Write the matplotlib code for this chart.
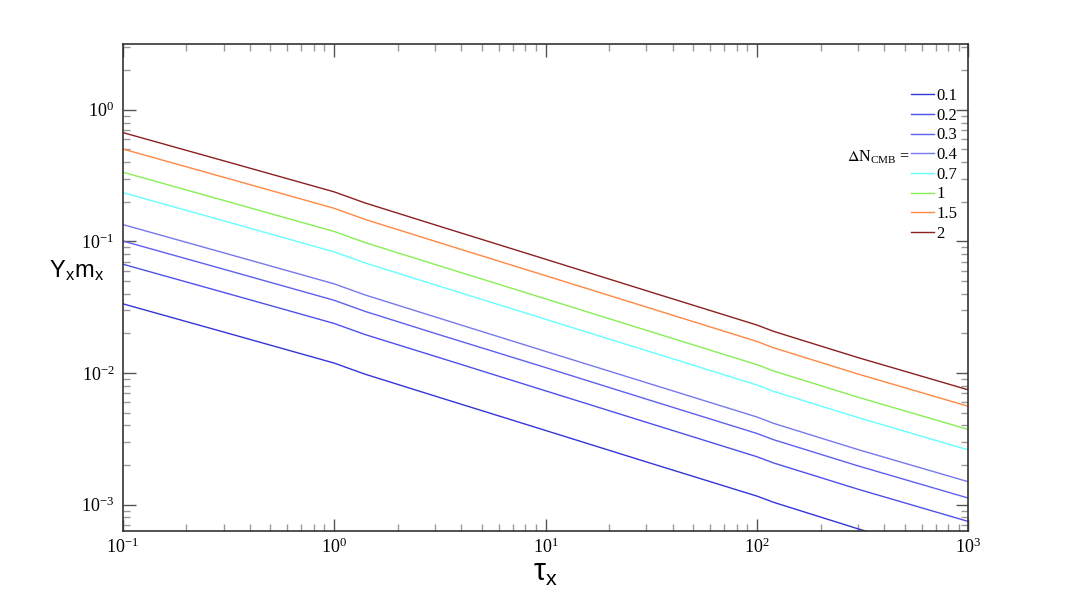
import numpy as np
import matplotlib
matplotlib.use("Agg")
import matplotlib.pyplot as plt
from matplotlib.ticker import LogLocator, NullFormatter

plt.rcParams["font.family"] = ["Liberation Serif", "DejaVu Serif"]
plt.rcParams["mathtext.fontset"] = "stix"

# tau_x sample points
tau = [0.1, 0.3, 1.0, 1.4, 3.0, 10.0, 30.0, 100.0, 120.0, 300.0, 1000.0]

# Y_x m_x for each Delta N_CMB
dn_labels = ["0.1", "0.2", "0.3", "0.4", "0.7", "1", "1.5", "2"]
y_01 = [0.0336, 0.0205, 0.0119, 0.0098, 0.00668, 0.00366, 0.00211, 0.00116, 0.00104, 0.000655, 0.000372]
y_02 = [0.0672, 0.0410, 0.0238, 0.0196, 0.0134, 0.00732, 0.00422, 0.00231, 0.00207, 0.00131, 0.000744]
y_03 = [0.1008, 0.0615, 0.0357, 0.0294, 0.0200, 0.0110, 0.00633, 0.00347, 0.00311, 0.00197, 0.00112]
y_04 = [0.1344, 0.0820, 0.0476, 0.0392, 0.0267, 0.0146, 0.00844, 0.00463, 0.00414, 0.00262, 0.00149]
y_07 = [0.235, 0.1435, 0.0833, 0.0686, 0.0468, 0.0256, 0.0148, 0.00810, 0.00725, 0.00459, 0.00260]
y_1 = [0.336, 0.205, 0.119, 0.098, 0.0668, 0.0366, 0.0211, 0.01157, 0.01035, 0.00655, 0.00372]
y_15 = [0.504, 0.3075, 0.1785, 0.147, 0.1002, 0.0549, 0.0317, 0.01736, 0.01553, 0.00983, 0.00558]
y_2 = [0.672, 0.410, 0.238, 0.196, 0.1336, 0.0732, 0.0422, 0.02314, 0.0207, 0.0131, 0.00744]
series = [y_01, y_02, y_03, y_04, y_07, y_1, y_15, y_2]

colors = ["#3535d8", "#5050ee", "#5f5ff0", "#7878ee", "#66ffff", "#88ee55", "#ff8844", "#8b2020"]

fig = plt.figure(figsize=(10.9, 5.99), dpi=100)
ax = fig.add_axes([0.1125, 0.1135, 0.776, 0.813])

for lab, ys, c in zip(dn_labels, series, colors):
    ax.plot(tau, ys, color=c, lw=1.0, label=lab)

ax.set_xscale("log")
ax.set_yscale("log")
ax.set_xlim(0.1, 1000)
ax.set_ylim(6.3e-4, 3.16)

ax.xaxis.set_minor_locator(LogLocator(base=10, subs=np.arange(2, 10), numticks=20))
ax.yaxis.set_minor_locator(LogLocator(base=10, subs=np.arange(2, 10), numticks=20))
ax.xaxis.set_minor_formatter(NullFormatter())
ax.yaxis.set_minor_formatter(NullFormatter())
ax.tick_params(which="both", direction="in", top=True, right=True, labelsize=13)
ax.tick_params(which="major", length=9, width=1.0, color="#555555")
ax.tick_params(which="minor", length=5, width=1.0, color="#999999")
ax.tick_params(axis="x", which="major", pad=5)
ax.tick_params(axis="y", which="major", pad=6)
for s in ax.spines.values():
    s.set_color("#333333")
    s.set_linewidth(1.2)

ax.set_xlabel(r"$\mathregular{\tau_x}$", fontsize=22, family="Liberation Sans")
ax.xaxis.set_label_coords(0.5, -0.055)
ax.set_ylabel(r"Y$_\mathregular{x}$m$_\mathregular{x}$", fontsize=17, family="Liberation Sans",
              rotation=0, va="center", ha="center")
ax.yaxis.set_label_coords(-0.054, 0.535)

leg = ax.legend(loc="upper left", bbox_to_anchor=(911 / 1090, 1 - 88 / 599),
                bbox_transform=fig.transFigure, frameon=False, fontsize=12,
                handlelength=1.35, handletextpad=0.15, labelspacing=0.22,
                borderpad=0, borderaxespad=0)
fig.text(847 / 1090, 1 - 157 / 599, r"$\Delta$N$_\mathregular{CMB}$ =", fontsize=11.5,
         va="center", ha="left")

fig.savefig("out.png", dpi=100)
